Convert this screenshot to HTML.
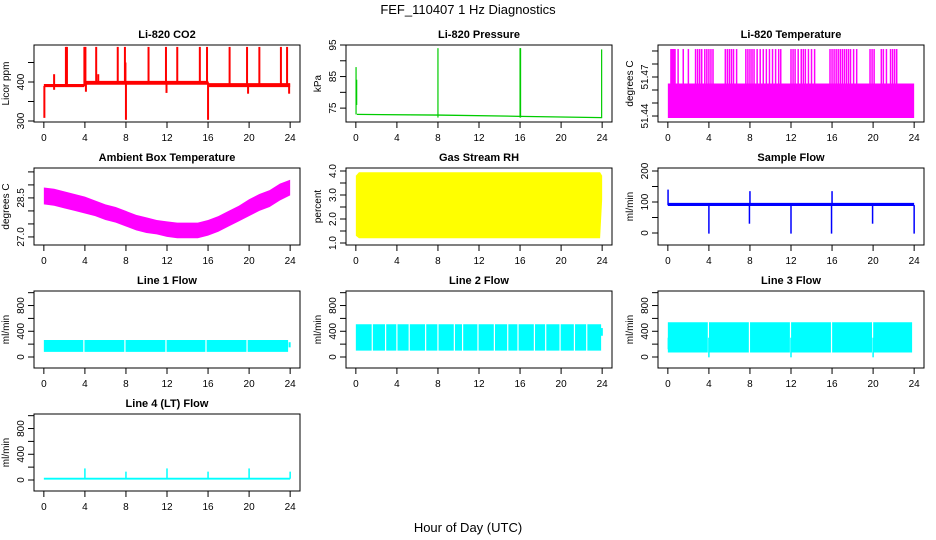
<!DOCTYPE html>
<html><head><meta charset="utf-8"><style>
html,body{margin:0;padding:0;background:#fff;}
svg{display:block;font-family:"Liberation Sans",Arial,sans-serif;}
</style></head><body>
<svg id="c" width="936" height="540" viewBox="0 0 936 540">
<text x="468" y="14" text-anchor="middle" font-size="13">FEF_110407  1 Hz Diagnostics</text>
<text x="468" y="532" text-anchor="middle" font-size="13">Hour of Day (UTC)</text>
</svg>
<script>
// ---------- data ----------
const xTicks = [0,4,8,12,16,20,24];

// Li-820 CO2
const co2BandT  = [0,0.1,3.9,4.1,12,16,16.1,24];
const co2BandLo = [387,387,387,393,393,393,387,387];
const co2BandHi = [395,395,395,403,403,403,397,397];
const co2SpikeT  = [0.05,1.0,2.15,2.25,3.95,4.05,4.1,5.1,5.3,7.2,7.9,7.95,8.0,10.2,11.9,11.95,13.0,15.2,15.9,16.0,18.1,19.8,19.9,21.0,23.1,23.7,23.9];
const co2SpikeY0 = [390,380,392,392,392,392,375,396,396,398,398,398,398,398,398,372,398,398,398,394,392,392,370,392,392,392,370];
const co2SpikeY1 = [308,420,490,490,490,490,398,490,420,490,490,450,303,490,490,398,490,490,490,303,490,490,396,490,490,490,396];

// Li-820 Pressure
const presBandT  = [0.1,8,16,24];
const presBandLo = [72.8,72.6,72.2,71.8];
const presBandHi = [73.2,73.0,72.6,72.2];
const presSpikeT  = [0.02,0.08,8.0,16.0,16.05,23.95];
const presSpikeY0 = [73,76,72,72,72,72];
const presSpikeY1 = [88,84,94,94,94,93.6];

// Li-820 Temperature
const ltBandT  = [0,24];
const ltBandLo = [51.4385,51.4385];
const ltBandHi = [51.465,51.465];
const ltSpikeT = [0.3,0.4,0.5,0.6,0.7,1.0,1.5,2.0,2.7,2.9,3.1,3.3,3.6,3.8,4.0,4.2,4.4,5.6,5.8,6.0,6.2,6.4,6.7,7.6,7.8,8.0,8.2,8.4,8.7,9.0,9.3,9.6,9.9,10.2,10.5,10.8,11.0,12.0,12.2,12.4,12.7,13.0,13.2,13.4,13.7,14.0,14.3,15.8,16.0,16.2,16.4,16.6,16.8,17.0,17.2,17.4,17.6,17.8,18.1,18.4,19.7,19.9,20.1,20.8,21.0,21.3,21.7,21.9,22.1,22.3];
const ltSpikeTop = 51.4915;

// Ambient Box Temperature
const ambT  = [0,1,2,3,4,5,6,7,8,9,10,11,12,13,14,15,16,17,18,19,20,21,22,23,24];
const ambLo = [28.25,28.2,28.1,28.0,27.9,27.8,27.65,27.55,27.4,27.25,27.15,27.1,27.0,26.95,26.95,26.95,27.05,27.2,27.4,27.6,27.8,28.0,28.15,28.4,28.6];
const ambHi = [28.9,28.85,28.75,28.65,28.55,28.4,28.25,28.15,28.0,27.85,27.75,27.65,27.6,27.55,27.55,27.55,27.65,27.8,28.0,28.2,28.45,28.65,28.8,29.05,29.2];

// Gas Stream RH
const rhBandT  = [0,0.3,23.8,24];
const rhBandLo = [1.3,1.2,1.2,2.8];
const rhBandHi = [3.8,3.95,3.95,3.8];

// Sample Flow
const sfBandT  = [0,24];
const sfBandLo = [87,87];
const sfBandHi = [97,97];
const sfSpikeT  = [0.02,4.0,7.95,8.0,12.0,15.95,16.0,19.95,24.0];
const sfSpikeY0 = [90,90,90,90,90,90,90,90,90];
const sfSpikeY1 = [140,-2,30,135,-2,-2,135,30,-2];

// Line flows
const l1Lo = 80, l1Hi = 265;
const l1GapT = [3.9,7.9,11.9,15.8,19.8];
const l2Lo = 100, l2Hi = 510;
const l2GapT = [1.6,2.9,4.0,5.2,6.8,8.0,9.6,10.4,11.9,13.5,14.8,15.8,17.4,18.5,19.9,21.3,22.5];
const l3Lo = 70, l3Hi = 540;
const l3GapT = [3.95,7.95,11.95,15.95,19.95];
const l3SpikeT  = [0.05,4.0,12.0,20.0,23.95];
const l3SpikeY1 = [120,-5,-5,-5,300];
const l4Base = 20;
const l4SpikeT  = [4.0,8.0,12.0,16.0,20.0,24.0];
const l4SpikeY1 = [180,130,180,130,180,130];

// ---------- drawing ----------
const svg = document.getElementById('c');
const NS = 'http://www.w3.org/2000/svg';
function mk(tag, attrs, parent){
  const e = document.createElementNS(NS, tag);
  for (const k in attrs) e.setAttribute(k, attrs[k]);
  (parent||svg).appendChild(e); return e;
}
const colL = [34,346,658], rowT = [45,168,291,414], W = 266, H = 77;

function panel(col,row,name,title,ylab,ylim,yt,ylbl,dec){
  const L = colL[col], T = rowT[row];
  const g = mk('g',{});
  
  
  const x = t => L + 9.85 + t*(246.3/24);
  const y = v => T + H - (v - ylim[0])/(ylim[1]-ylim[0])*H;
  const tt = mk('text',{x:L+W/2,y:T-7,'text-anchor':'middle','font-size':11,'font-weight':'bold'},g);
  tt.textContent = title;
  
  
  const yl = mk('text',{transform:`translate(${L-25},${T+H/2}) rotate(-90)`,'text-anchor':'middle','font-size':10},g);
  yl.textContent = ylab;
  
  
  const xa = mk('g',{stroke:'#000','stroke-width':1},g);
  
  
  mk('line',{x1:x(xTicks[0]),x2:x(xTicks[xTicks.length-1]),y1:T+H,y2:T+H},xa);
  xTicks.forEach(v=>{
    mk('line',{x1:x(v),x2:x(v),y1:T+H,y2:T+H+6},xa);
    const lt = mk('text',{x:x(v),y:T+H+19,'text-anchor':'middle','font-size':10,stroke:'none'},xa);
    lt.textContent = v;
  });
  const ya = mk('g',{stroke:'#000','stroke-width':1},g);
  
  
  mk('line',{x1:L,x2:L,y1:y(yt[0]),y2:y(yt[yt.length-1])},ya);
  yt.forEach(v=>mk('line',{x1:L-6,x2:L,y1:y(v),y2:y(v)},ya));
  ylbl.forEach(v=>{
    const lt = mk('text',{transform:`translate(${L-10},${y(v)}) rotate(-90)`,'text-anchor':'middle','font-size':10,stroke:'none'},ya);
    lt.textContent = dec ? v.toFixed(dec) : v;
  });
  const clip = 'clip'+name;
  const cp = mk('clipPath',{id:clip},g); mk('rect',{x:L,y:T,width:W,height:H},cp);
  const d = mk('g',{'clip-path':`url(#${clip})`},g);
  
  
  mk('rect',{x:L,y:T,width:W,height:H,fill:'none',stroke:'#000','stroke-width':1},g);
  return {x,y,d};
}
function band(p,t,lo,hi,color){
  let pts=[]; t.forEach((v,i)=>pts.push(p.x(v)+','+p.y(hi[i])));
  for(let i=t.length-1;i>=0;i--) pts.push(p.x(t[i])+','+p.y(lo[i]));
  const e = mk('polygon',{points:pts.join(' '),fill:color},p.d);
  
  
}
function spikes(p,t,y0,y1,color,w){
  t.forEach((v,i)=>{
    const e = mk('line',{x1:p.x(v),x2:p.x(v),y1:p.y(y0[i]),y2:p.y(y1[i]),stroke:color,'stroke-width':w||1.5},p.d);
    
    
  });
}
function gaps(p,t,lo,hi){
  t.forEach(v=>{
    const e = mk('line',{x1:p.x(v),x2:p.x(v),y1:p.y(hi+20),y2:p.y(lo-20),stroke:'#fff','stroke-width':1.2},p.d);
    
    
  });
}

let p = panel(0,0,'co2','Li-820 CO2','Licor ppm',[297.4,494.9],[300,350,400,450],[300,400],0);
band(p,co2BandT,co2BandLo,co2BandHi,'#ff0000');
spikes(p,co2SpikeT,co2SpikeY0,co2SpikeY1,'#ff0000',2);
p = panel(1,0,'pressure','Li-820 Pressure','kPa',[70.6,95],[75,80,85,90,95],[75,85,95],0);
band(p,presBandT,presBandLo,presBandHi,'#00cc00');
spikes(p,presSpikeT,presSpikeY0,presSpikeY1,'#00cc00',1.2);
p = panel(2,0,'li820-temp','Li-820 Temperature','degrees C',[51.4354,51.4946],[51.44,51.45,51.46,51.47,51.48,51.49],[51.44,51.47],2);
band(p,ltBandT,ltBandLo,ltBandHi,'#ff00ff');
spikes(p,ltSpikeT,ltSpikeT.map(()=>ltBandHi[0]),ltSpikeT.map(()=>ltSpikeTop),'#ff00ff',1.5);
p = panel(0,1,'ambient-temp','Ambient Box Temperature','degrees C',[26.69,29.65],[27.0,27.5,28.0,28.5,29.0,29.5],[27.0,28.5],1);
band(p,ambT,ambLo,ambHi,'#ff00ff');
p = panel(1,1,'gas-rh','Gas Stream RH','percent',[0.917,4.125],[1.0,1.5,2.0,2.5,3.0,3.5,4.0],[1.0,2.0,3.0,4.0],1);
band(p,rhBandT,rhBandLo,rhBandHi,'#ffff00');
p = panel(2,1,'sample-flow','Sample Flow','ml/min',[-38.7,209.7],[0,50,100,150,200],[0,100,200],0);
band(p,sfBandT,sfBandLo,sfBandHi,'#0000ff');
spikes(p,sfSpikeT,sfSpikeY0,sfSpikeY1,'#0000ff',1.5);
const fl=[-171,1026], ft=[0,200,400,600,800,1000], fl2=[0,400,800];
p = panel(0,2,'line1-flow','Line 1 Flow','ml/min',fl,ft,fl2,0);
band(p,[0,23.8],[l1Lo,l1Lo],[l1Hi,l1Hi],'#00ffff'); gaps(p,l1GapT,l1Lo,l1Hi);
spikes(p,[23.95],[150],[230],'#00ffff',2);
p = panel(1,2,'line2-flow','Line 2 Flow','ml/min',fl,ft,fl2,0);
band(p,[0,23.9],[l2Lo,l2Lo],[l2Hi,l2Hi],'#00ffff'); gaps(p,l2GapT,l2Lo,l2Hi);
spikes(p,[23.97],[330],[450],'#00ffff',2);
p = panel(2,2,'line3-flow','Line 3 Flow','ml/min',fl,ft,fl2,0);
band(p,[0,23.8],[l3Lo,l3Lo],[l3Hi,l3Hi],'#00ffff'); gaps(p,l3GapT,l3Lo,l3Hi);
spikes(p,l3SpikeT,l3SpikeT.map(()=>300),l3SpikeY1,'#00ffff',1.5);
p = panel(0,3,'line4-flow','Line 4 (LT) Flow','ml/min',fl,ft,fl2,0);
band(p,[0,24],[l4Base-15,l4Base-15],[l4Base+15,l4Base+15],'#00ffff');
spikes(p,l4SpikeT,l4SpikeT.map(()=>l4Base),l4SpikeY1,'#00ffff',1.5);
</script>
</body></html>
